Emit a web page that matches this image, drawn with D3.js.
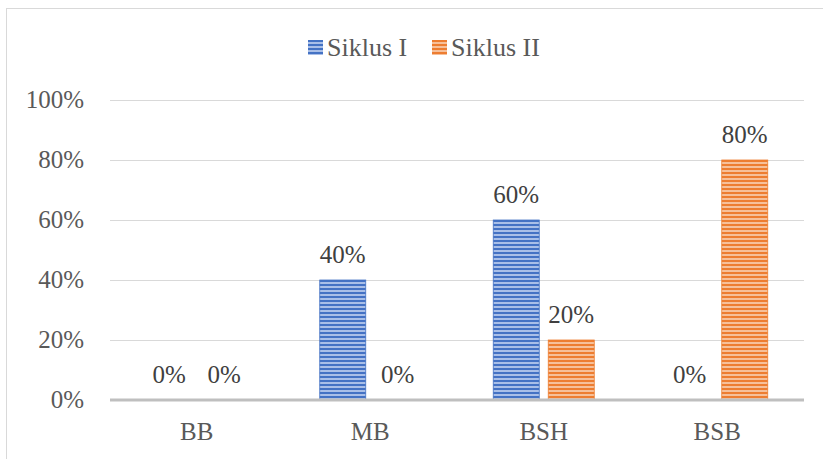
<!DOCTYPE html>
<html><head><meta charset="utf-8">
<script src="https://cdn.jsdelivr.net/npm/d3@7"></script>
<style>body{margin:0;background:#fff}svg{display:block}</style>
</head><body>
<svg id="c" width="823" height="459"></svg>
<script>
const categories = ["BB", "MB", "BSH", "BSB"];
const seriesNames = ["Siklus I", "Siklus II"];
const siklus1 = [0, 40, 60, 0];
const siklus2 = [0, 0, 20, 80];
const yTicks = [0, 20, 40, 60, 80, 100];
const colors = ["#4472C4", "#ED7D31"];
const lightColors = ["#a9bfe8", "#f6c09a"];

const svg = d3.select("#c");
const txt = "#595959";
const FF = '"Liberation Serif"';
const fs = 25;

// chart border
svg.append("rect").attr("x", 6.5).attr("y", 8.5).attr("width", 830).attr("height", 470)
  .attr("fill", "none").attr("stroke", "#d9d9d9").attr("stroke-width", 1);

// patterns
const defs = svg.append("defs");
colors.forEach((c, i) => {
  const p = defs.append("pattern").attr("id", "p" + i).attr("patternUnits", "userSpaceOnUse")
    .attr("width", 8).attr("height", 4);
  p.append("rect").attr("width", 8).attr("height", 4).attr("fill", lightColors[i]);
  p.append("rect").attr("width", 8).attr("height", 2).attr("fill", c);
});

const x0 = d3.scaleBand().domain(categories).range([110, 804]).paddingInner(0).paddingOuter(0);
const y = d3.scaleLinear().domain([0, 100]).range([400, 100]);
const barW = 46, gap = 9;

// gridlines
svg.append("g").selectAll("line").data(yTicks.filter(t => t > 0)).join("line")
  .attr("x1", 110).attr("x2", 804).attr("y1", d => y(d) + 0.5).attr("y2", d => y(d) + 0.5)
  .attr("stroke", "#d9d9d9").attr("stroke-width", 1);

// y labels
svg.append("g").selectAll("text").data(yTicks).join("text")
  .attr("x", 84).attr("y", d => y(d) + 8).attr("text-anchor", "end")
  .attr("font-size", fs).attr("fill", txt).style("font-family", FF)
  .text(d => d + "%");

const series = [siklus1, siklus2];
series.forEach((vals, si) => {
  const g = svg.append("g");
  const xs = (d, i) => x0(categories[i]) + x0.bandwidth() / 2 + (si === 0 ? -gap / 2 - barW : gap / 2);
  g.selectAll("rect").data(vals).join("rect")
    .attr("x", xs).attr("width", barW)
    .attr("y", d => y(d)).attr("height", d => y(0) - y(d))
    .attr("fill", "url(#p" + si + ")")
    .attr("stroke", colors[si]).attr("stroke-width", d => d > 0 ? 0.8 : 0);
  g.selectAll("text").data(vals).join("text")
    .attr("x", (d, i) => xs(d, i) + barW / 2).attr("y", d => y(d) - 17)
    .attr("text-anchor", "middle")
    .attr("font-size", fs).attr("fill", "#404040").style("font-family", FF)
    .text(d => d + "%");
});

// baseline
svg.append("line").attr("x1", 110).attr("x2", 804).attr("y1", 400).attr("y2", 400)
  .attr("stroke", "#bfbfbf").attr("stroke-width", 3);

// x labels
svg.append("g").selectAll("text").data(categories).join("text")
  .attr("x", d => x0(d) + x0.bandwidth() / 2).attr("y", 440)
  .attr("text-anchor", "middle")
  .attr("font-size", fs).attr("fill", txt).style("font-family", FF)
  .text(d => d);

// legend
const legX = [308, 432];
seriesNames.forEach((n, i) => {
  svg.append("rect").attr("x", legX[i]).attr("y", 40).attr("width", 15).attr("height", 15)
    .attr("fill", "url(#p" + i + ")");
  svg.append("text").attr("x", legX[i] + 19).attr("y", 56)
    .attr("font-size", 26).attr("fill", txt).style("font-family", FF).text(n);
});
</script>
</body></html>
